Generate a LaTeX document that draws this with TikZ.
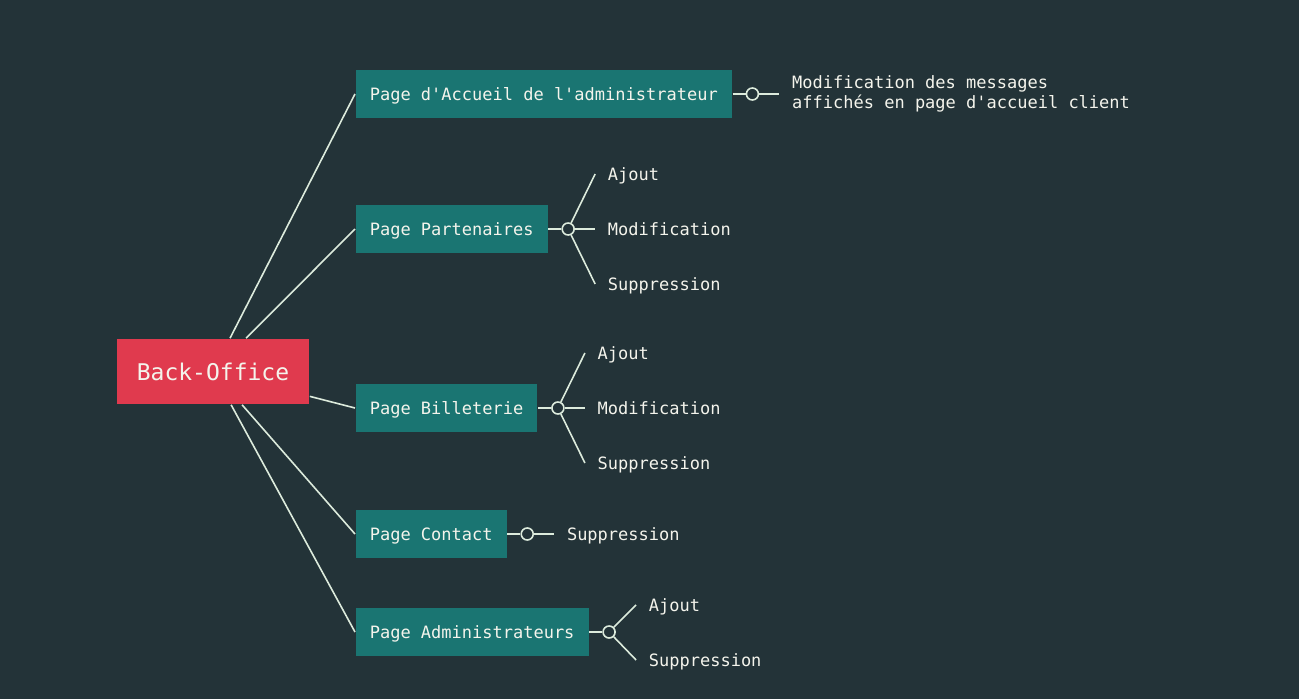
\documentclass[tikz,border=0pt]{standalone}
\usepackage{fontspec}
\setmonofont{DejaVu Sans Mono}
\usetikzlibrary{positioning}
\definecolor{bgdark}{HTML}{233338}
\definecolor{boxteal}{HTML}{1A7572}
\definecolor{rootred}{HTML}{E03A4E}
\definecolor{wire}{HTML}{DCEBDC}
\definecolor{txt}{HTML}{F4F4EC}

\begin{document}
\begin{tikzpicture}[x=1pt, y=-1pt, line width=1.6pt, draw=wire,
  font=\ttfamily\fontsize{17}{20}\selectfont]
\tikzset{
  rootbox/.style={fill=rootred, text=txt, minimum width=192pt, minimum height=65pt,
    font=\ttfamily\fontsize{23}{26}\selectfont},
  pagebox/.style={fill=boxteal, text=txt, anchor=west, minimum height=48pt, inner xsep=14pt,
    text height=15pt, text depth=2pt},
  hub/.style={circle, draw=wire, fill=bgdark, minimum size=12pt, inner sep=0pt},
  leaf/.style={text=txt, anchor=west, inner xsep=12pt, text height=15pt, text depth=2pt},
  multileaf/.style={text=txt, anchor=west, inner xsep=12pt, align=left}
}
\fill[bgdark] (0,0) rectangle (1299,699);
\useasboundingbox (0,0) rectangle (1299,699);

\node [rootbox] (bo) at (213,371.5) {Back-Office};

\node [pagebox] (p1) at (355,94) {Page d'Accueil de l'administrateur};
\node [pagebox] (p2) at (355,229) {Page Partenaires};
\node [pagebox] (p3) at (355,408) {Page Billeterie};
\node [pagebox] (p4) at (355,534) {Page Contact};
\node [pagebox] (p5) at (355,632) {Page Administrateurs};

\node [hub, right=13pt of p1] (h1) {};
\node [hub, right=13pt of p2] (h2) {};
\node [hub, right=13pt of p3] (h3) {};
\node [hub, right=13pt of p4] (h4) {};
\node [hub, right=13pt of p5] (h5) {};

% feuilles
\node [multileaf] (l1) at ([shift={(27,0)}]h1.center) {Modification des messages\\affichés en page d'accueil client};
\node [leaf] (l2a) at ([shift={(27,-55)}]h2.center) {Ajout};
\node [leaf] (l2b) at ([shift={(27,0)}]h2.center) {Modification};
\node [leaf] (l2c) at ([shift={(27,55)}]h2.center) {Suppression};
\node [leaf] (l3a) at ([shift={(27,-55)}]h3.center) {Ajout};
\node [leaf] (l3b) at ([shift={(27,0)}]h3.center) {Modification};
\node [leaf] (l3c) at ([shift={(27,55)}]h3.center) {Suppression};
\node [leaf] (l4) at ([shift={(27,0)}]h4.center) {Suppression};
\node [leaf] (l5a) at ([shift={(27,-27)}]h5.center) {Ajout};
\node [leaf] (l5b) at ([shift={(27,28)}]h5.center) {Suppression};

\draw (bo) -- (p1.west);
\draw (bo) -- (p2.west);
\draw (bo) -- (p3.west);
\draw (bo) -- (p4.west);
\draw (bo) -- (p5.west);

\draw (p1) -- (h1);
\draw (p2) -- (h2);
\draw (p3) -- (h3);
\draw (p4) -- (h4);
\draw (p5) -- (h5);

\draw (h1) -- (l1.west);
\draw (h2) -- (l2a.west);
\draw (h2) -- (l2b.west);
\draw (h2) -- (l2c.west);
\draw (h3) -- (l3a.west);
\draw (h3) -- (l3b.west);
\draw (h3) -- (l3c.west);
\draw (h4) -- (l4.west);
\draw (h5) -- (l5a.west);
\draw (h5) -- (l5b.west);
\end{tikzpicture}
\end{document}
